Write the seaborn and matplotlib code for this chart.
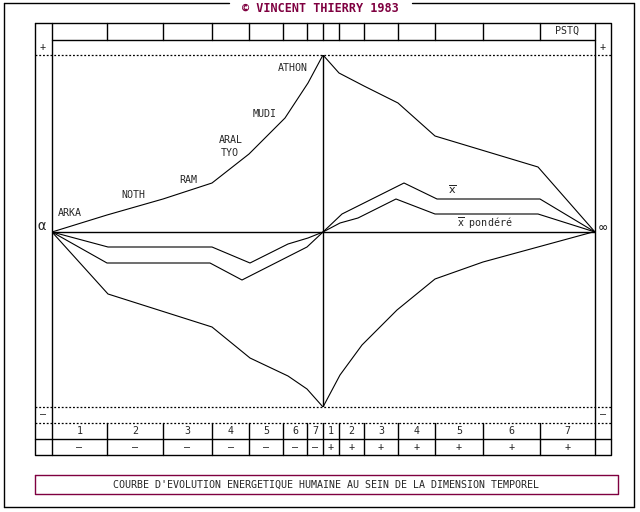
import numpy as np
import matplotlib
matplotlib.use('Agg')
from matplotlib import pyplot as plt
from matplotlib import transforms
import seaborn as sns

sns.set_style("white")
plt.rcParams['font.family'] = ['DejaVu Sans Mono', 'DejaVu Sans']
plt.rcParams['mathtext.fontset'] = 'dejavusans'

# time columns (widths), left = negative phase, right = positive phase
col_w_left = [55, 56, 49, 37, 34, 24, 16]
col_w_right = [16, 25, 34, 37, 48, 57, 55]
col_labels = ['1', '2', '3', '4', '5', '6', '7']

# energy curves (x = time, y = energy)
upper_x = [-271, -216, -160, -111, -74, -38, -15, 0, 16, 41, 75, 112, 215, 272]
upper_y = [0, 17, 33, 49, 78, 114, 149, 177, 159, 146, 129, 96, 65, 0]
lower_x = [-271, -215, -111, -73, -35, -16, 0, 17, 39, 74, 112, 160, 270]
lower_y = [0, -62, -95, -126, -144, -157, -175, -143, -113, -78, -47, -30, 0]
mean_x = [-271, -216, -113, -81, -16, 0, 19, 81, 114, 217, 272]
mean_y = [0, -31, -31, -48, -15, 0, 18, 49, 33, 33, 0]
wmean_x = [-271, -215, -111, -73, -35, -15, 0, 17, 35, 73, 112, 215, 272]
wmean_y = [0, -15, -15, -31, -12, -6, 0, 9, 14, 33, 18, 18, 0]

era_names = ['ARKA', 'NOTH', 'RAM', 'ARAL', 'TYO', 'MUDI', 'ATHON']
era_x = [-253, -190, -135, -92, -93, -58, -30]
era_y = [19, 37, 52, 92, 79, 118, 164]

maroon = '#7f0040'

fig = plt.figure(figsize=(6.4, 5.12), dpi=100)
bg = fig.add_axes([0, 0, 1, 1])
bg.set_xlim(0, 640)
bg.set_ylim(512, 0)
bg.axis('off')

ax = fig.add_axes([52 / 640, 1 - 407 / 512, 543 / 640, 352 / 512])
ax.set_xlim(-271, 272)
ax.set_ylim(-175, 177)
ax.axis('off')

lk = dict(color='black', lw=1)
dk = dict(color='black', lw=0.9, ls=(0, (1.5, 1.5)))

# outer border with gap for the title
bg.plot([4, 229], [3, 3], **lk)
bg.plot([412, 634], [3, 3], **lk)
bg.plot([4, 4], [3, 507], **lk)
bg.plot([634, 634], [3, 507], **lk)
bg.plot([4, 634], [507, 507], **lk)
bg.text(320, 9, '\u00a9 VINCENT THIERRY 1983', ha='center', va='center',
        color=maroon, fontweight='bold', fontsize=8.5)

# inner frame
bg.plot([35, 611, 611, 35, 35], [23, 23, 455, 455, 23], **lk)
bg.plot([52, 52], [23, 455], **lk)
bg.plot([595, 595], [23, 455], **lk)
bg.plot([52, 595], [40, 40], **lk)
bg.plot([35, 611], [439, 439], **lk)
for yy in [55, 407, 423]:
    bg.plot([35, 611], [yy, yy], **dk)

# column boundaries from widths
left_b = -271 + np.concatenate([[0], np.cumsum(col_w_left)])
right_b = left_b[-1] + np.concatenate([[0], np.cumsum(col_w_right)])
bounds = np.concatenate([left_b[1:-1], [0], right_b[1:-1]])
tr = transforms.blended_transform_factory(ax.transData, bg.transData)
for b in bounds:
    ax.plot([b, b], [23, 40], transform=tr, clip_on=False, **lk)
    ax.plot([b, b], [423, 455], transform=tr, clip_on=False, **lk)

left_c = (left_b[:-1] + left_b[1:]) / 2
right_c = (right_b[:-1] + right_b[1:]) / 2
for c, lab in zip(left_c, col_labels):
    ax.text(c, 431, lab, transform=tr, ha='center', va='center', fontsize=7.2)
    ax.text(c, 447, '\u2013', transform=tr, ha='center', va='center', fontsize=7.2)
for c, lab in zip(right_c, col_labels):
    ax.text(c, 431, lab, transform=tr, ha='center', va='center', fontsize=7.2)
    ax.text(c, 447, '+', transform=tr, ha='center', va='center', fontsize=7.2)
ax.text(right_c[-1], 31, 'PSTQ', transform=tr, ha='center', va='center', fontsize=7.2)

bg.text(43, 47, '+', ha='center', va='center', fontsize=7.2)
bg.text(603, 47, '+', ha='center', va='center', fontsize=7.2)
bg.text(43, 414, '\u2013', ha='center', va='center', fontsize=7.2)
bg.text(603, 414, '\u2013', ha='center', va='center', fontsize=7.2)
bg.text(42, 226, '\u03b1', ha='center', va='center', fontsize=10)
bg.text(603, 228, '\u221e', ha='center', va='center', fontsize=10)

# axes of the chart
ax.axhline(0, **lk)
ax.axvline(0, **lk)

for xs, ys in [(upper_x, upper_y), (lower_x, lower_y),
               (mean_x, mean_y), (wmean_x, wmean_y)]:
    sns.lineplot(x=xs, y=ys, ax=ax, color='black', lw=0.8,
                 sort=False, estimator=None)

for n, xx, yy in zip(era_names, era_x, era_y):
    ax.text(xx, yy, n, ha='center', va='center', fontsize=7.2)
ax.text(129, 42, r'$\overline{\mathrm{x}}$', ha='center', va='center', fontsize=8)
ax.text(162, 9, r'$\overline{\mathrm{x}}$ pondéré', ha='center', va='center', fontsize=7.2)

# title box
bg.plot([35, 618, 618, 35, 35], [475, 475, 494, 494, 475], color=maroon, lw=1)
bg.text(326, 485, "COURBE D'EVOLUTION ENERGETIQUE HUMAINE AU SEIN DE LA DIMENSION TEMPOREL",
        ha='center', va='center', fontsize=7.2)

fig.savefig('out.png', dpi=100)
